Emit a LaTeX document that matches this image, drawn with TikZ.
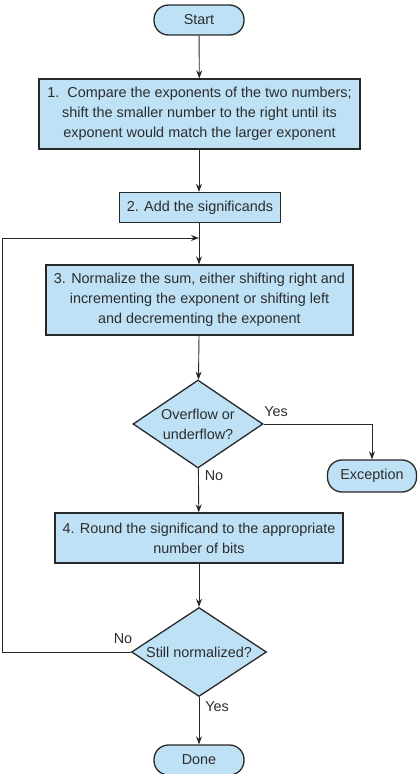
\documentclass[tikz,border=0pt]{standalone}
\usepackage{fontspec}
\setmainfont{Liberation Sans}
\usetikzlibrary{shapes.geometric,arrows.meta}
\definecolor{boxblue}{RGB}{190,225,246}
\definecolor{darkline}{RGB}{40,40,40}
\definecolor{textgrey}{RGB}{45,45,45}

\begin{document}
\begin{tikzpicture}[x=1pt,y=-1pt]
    \tikzset{%
      base/.style={draw=darkline, fill=boxblue, text=textgrey, line width=1.3pt,
        font=\fontsize{14.4}{19.8}\selectfont, align=center, inner sep=0pt},
      term/.style={base, rounded corners=14.5pt},
      proc/.style={base, rectangle},
      decide/.style={base, diamond, shape aspect=1.5, inner sep=-3pt},
      flow/.style={draw=darkline, line width=0.9pt, -{Stealth[length=8pt,width=6pt]}},
      lbl/.style={text=textgrey, font=\fontsize{14.4}{16}\selectfont, inner sep=0pt},
    }
    \useasboundingbox (0,0) rectangle (420,774);
    % boxes, top to bottom
    \node[term, minimum width=90pt, minimum height=30pt] (start) at (199,20) {Start};
    \node[proc, minimum width=321pt, minimum height=70pt] (compare) at (199.5,114)
      {1.\ \ Compare the exponents of the two numbers;\\
       shift the smaller number to the right until its\\
       exponent would match the larger exponent};
    \node[proc, minimum width=161pt, minimum height=30pt] (add) at (200,207.5)
      {2. Add the significands};
    \node[proc, minimum width=307pt, minimum height=70pt] (normal) at (199.5,300)
      {3. Normalize the sum, either shifting right and\\
       incrementing the exponent or shifting left\\
       and decrementing the exponent};
    \node[decide, minimum width=130pt, minimum height=88pt] (over) at (198,424)
      {Overflow or\\underflow?};
    \node[term, minimum width=89pt, minimum height=32pt] (except) at (372,476) {Exception};
    \node[proc, minimum width=288pt, minimum height=50pt] (round) at (199,538)
      {4. Round the significand to the appropriate\\number of bits};
    \node[decide, minimum width=135pt, minimum height=89pt] (still) at (199,652)
      {Still normalized?};
    \node[term, minimum width=90pt, minimum height=30pt] (done) at (199,760) {Done};

    % helper points for the loop back
    \coordinate (join) at (199,238);
    \coordinate (back) at (2,652);

    \draw[flow] (start) -- (compare);
    \draw[flow] (compare.south -| start) -- (add.north -| start);
    \draw[flow] (add.south -| start) -- (normal.north -| start);
    \draw[flow] (normal.south -| start) -- (over);
    \draw[flow] (over.east) -| (except.north);
    \draw[flow] (over) -- (round);
    \draw[flow] (round) -- (still);
    \draw[flow] (still) -- (done);
    \draw[flow] (still.west) -- (back) |- (join);

    % branch labels
    \node[lbl] (overyes) at (276,412) {Yes};
    \node[lbl] (overno) at (214,476) {No};
    \node[lbl] (stillno) at (123,639) {No};
    \node[lbl] (stillyes) at (217,707) {Yes};
\end{tikzpicture}
\end{document}
